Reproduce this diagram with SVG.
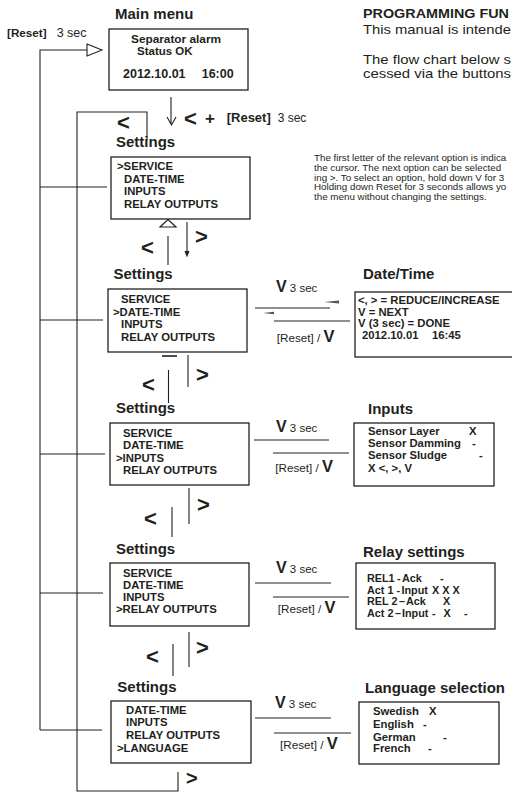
<svg xmlns="http://www.w3.org/2000/svg" width="512" height="792" viewBox="0 0 512 792">
<style>
text{font-family:"Liberation Sans",Arial,Helvetica,sans-serif;fill:#231f20}
.title{font-size:15px;font-weight:bold}
.bt{font-size:11.3px;font-weight:bold}
.rt{font-size:10.8px;font-weight:bold}
.nav{font-size:22px;font-weight:bold}
.body{font-size:12.8px}
.small{font-size:9.8px}
.ln{stroke:#231f20;stroke-width:1.1;fill:none}
.box{stroke:#231f20;stroke-width:1.3;fill:#fff}
</style>
<rect width="512" height="792" fill="#fff"/>

<g id="intro">
<text x="363" y="18" style="font-size:13px;font-weight:bold" textLength="146" lengthAdjust="spacingAndGlyphs">PROGRAMMING FUN</text>
<text class="body" x="363" y="34" textLength="148" lengthAdjust="spacingAndGlyphs">This manual is intende</text>
<text class="body" x="363" y="64" textLength="148" lengthAdjust="spacingAndGlyphs">The flow chart below s</text>
<text class="body" x="363" y="78" textLength="148" lengthAdjust="spacingAndGlyphs">cessed via the buttons</text>
<text class="small" x="314" y="161">The first letter of the relevant option is indica</text>
<text class="small" x="314" y="170.7">the cursor. The next option can be selected</text>
<text class="small" x="314" y="180.5">ing &gt;. To select an option, hold down V for 3</text>
<text class="small" x="314" y="190.2">Holding down Reset for 3 seconds allows yo</text>
<text class="small" x="314" y="200">the menu without changing the settings.</text>
</g>

<g id="connectors">
<path class="ln" d="M40,730 V50 H88"/>
<polygon points="87,44 102,50 87,56" fill="#fff" stroke="#231f20" stroke-width="1.1"/>
<path class="ln" d="M40,187 H107 M40,320 H103 M40,454 H105 M40,593 H103 M40,730 H102"/>
<path class="ln" d="M147,140 V112 H77 V791 H178 V772"/>
<path class="ln" d="M171,97 V124 M167,117 L171.5,125 L176,117"/>
<polygon points="160,227 168,219.5 176,227" fill="#fff" stroke="#231f20" stroke-width="1.2"/>
<path class="ln" d="M168,236 V265 M187,222 V252"/>
<polygon points="184.5,251 189.5,251 187,257.5" fill="#231f20"/>
<path class="ln" d="M162,356 H177" style="stroke-width:1.6"/>
<path class="ln" d="M168.5,370 V403 M188,355 V387"/>
<path class="ln" d="M189,488 V524 M172,507 V537"/>
<path class="ln" d="M189,632 V667 M173,644 V676"/>
<path class="ln" d="M255,308 H330 M274,321 H350"/>
<polygon points="324,302 339,300.6 339,303.4" fill="#555"/>
<polygon points="263,313 274,311.8 274,314.2" fill="#555"/>
<path class="ln" d="M254,440 H329 M273,453 H349"/>
<path class="ln" d="M255,583 H331 M273,597 H349"/>
<path class="ln" d="M255,718 H331 M274,733 H351"/>
</g>

<g id="nav-labels">
<text x="7" y="37"><tspan style="font-size:11.7px;font-weight:bold">[Reset]</tspan><tspan x="56.7" style="font-size:12.5px">3 sec</tspan></text>
<text class="nav" x="117" y="130">&lt;</text>
<text class="nav" x="184" y="126">&lt;</text>
<text x="205" y="124" style="font-size:17px;font-weight:bold">+</text>
<text x="226.7" y="122" style="font-size:13px;font-weight:bold">[Reset]</text>
<text x="277.7" y="122" style="font-size:12px">3 sec</text>
<text class="nav" x="195" y="244">&gt;</text>
<text class="nav" x="141" y="254.5">&lt;</text>
<text class="nav" x="196" y="382">&gt;</text>
<text class="nav" x="142" y="392">&lt;</text>
<text class="nav" x="197" y="512">&gt;</text>
<text class="nav" x="144" y="526">&lt;</text>
<text class="nav" x="196" y="655">&gt;</text>
<text class="nav" x="146" y="663.5">&lt;</text>
<text class="nav" x="186" y="785" style="font-size:20px">&gt;</text>
</g>

<g id="edge-labels">
<text x="276" y="292.3"><tspan style="font-size:16px;font-weight:bold">V</tspan><tspan style="font-size:11.5px"> 3 sec</tspan></text>
<text x="276.7" y="341.5"><tspan style="font-size:11.7px">[Reset] / </tspan><tspan style="font-size:16.5px;font-weight:bold">V</tspan></text>
<text x="276" y="432.3"><tspan style="font-size:16px;font-weight:bold">V</tspan><tspan style="font-size:11.5px"> 3 sec</tspan></text>
<text x="275.3" y="471.5"><tspan style="font-size:11.7px">[Reset] / </tspan><tspan style="font-size:16.5px;font-weight:bold">V</tspan></text>
<text x="276" y="573"><tspan style="font-size:16px;font-weight:bold">V</tspan><tspan style="font-size:11.5px"> 3 sec</tspan></text>
<text x="277.7" y="612.7"><tspan style="font-size:11.7px">[Reset] / </tspan><tspan style="font-size:16.5px;font-weight:bold">V</tspan></text>
<text x="275" y="707.5"><tspan style="font-size:16px;font-weight:bold">V</tspan><tspan style="font-size:11.5px"> 3 sec</tspan></text>
<text x="280" y="749"><tspan style="font-size:11.7px">[Reset] / </tspan><tspan style="font-size:16.5px;font-weight:bold">V</tspan></text>
</g>

<g id="main-menu">
<text class="title" x="115" y="19">Main menu</text>
<rect class="box" x="109" y="29" width="139" height="61"/>
<text x="131" y="43" style="font-size:11.5px;font-weight:bold" textLength="90" lengthAdjust="spacingAndGlyphs">Separator alarm</text>
<text x="137" y="55" style="font-size:11.5px;font-weight:bold">Status OK</text>
<text x="123" y="78" style="font-size:12.5px;font-weight:bold">2012.10.01<tspan x="201.7">16:00</tspan></text>
</g>

<g id="settings-service">
<text class="title" x="116" y="147">Settings</text>
<rect class="box" x="111" y="157" width="139" height="62"/>
<text class="bt" x="117" y="170">&gt;SERVICE</text>
<text class="bt" x="124" y="183">DATE-TIME</text>
<text class="bt" x="124" y="195.3">INPUTS</text>
<text class="bt" x="124" y="207.5">RELAY OUTPUTS</text>
</g>

<g id="settings-datetime">
<text class="title" x="113.5" y="279.3">Settings</text>
<rect class="box" x="108" y="289" width="139" height="63"/>
<text class="bt" x="121" y="303.3">SERVICE</text>
<text class="bt" x="113" y="315.7">&gt;DATE-TIME</text>
<text class="bt" x="121" y="327.8">INPUTS</text>
<text class="bt" x="121" y="340.5">RELAY OUTPUTS</text>
</g>

<g id="settings-inputs">
<text class="title" x="116" y="413.3">Settings</text>
<rect class="box" x="110" y="423" width="139" height="62"/>
<text class="bt" x="123" y="437">SERVICE</text>
<text class="bt" x="123" y="449">DATE-TIME</text>
<text class="bt" x="116" y="461.7">&gt;INPUTS</text>
<text class="bt" x="123" y="474">RELAY OUTPUTS</text>
</g>

<g id="settings-relay">
<text class="title" x="116" y="554">Settings</text>
<rect class="box" x="110" y="563" width="139" height="63"/>
<text class="bt" x="123" y="577">SERVICE</text>
<text class="bt" x="123" y="589">DATE-TIME</text>
<text class="bt" x="123" y="601">INPUTS</text>
<text class="bt" x="116" y="613.3">&gt;RELAY OUTPUTS</text>
</g>

<g id="settings-language">
<text class="title" x="117.3" y="691.5">Settings</text>
<rect class="box" x="111" y="701" width="140" height="62"/>
<text class="bt" x="126" y="714">DATE-TIME</text>
<text class="bt" x="126" y="726.3">INPUTS</text>
<text class="bt" x="126" y="739">RELAY OUTPUTS</text>
<text class="bt" x="117" y="752">&gt;LANGUAGE</text>
</g>

<g id="date-time">
<text class="title" x="363" y="279">Date/Time</text>
<rect class="box" x="355" y="292" width="160" height="65"/>
<text class="bt" x="358" y="304.3">&lt;, &gt; = REDUCE/INCREASE</text>
<text class="bt" x="358" y="315.5">V = NEXT</text>
<text class="bt" x="358" y="327.3">V (3 sec) = DONE</text>
<text class="bt" x="362" y="339.3">2012.10.01<tspan x="432">16:45</tspan></text>
</g>

<g id="inputs">
<text class="title" x="368" y="414">Inputs</text>
<rect class="box" x="354" y="423" width="140" height="63"/>
<text class="bt" x="368" y="435">Sensor Layer<tspan x="469">X</tspan></text>
<text class="bt" x="368" y="447.3">Sensor Damming<tspan x="472">-</tspan></text>
<text class="bt" x="368" y="459.3">Sensor Sludge<tspan x="479">-</tspan></text>
<text class="bt" x="368" y="472">X<tspan x="378.7">&lt;, &gt;, V</tspan></text>
</g>

<g id="relay-settings">
<text class="title" x="363" y="557">Relay settings</text>
<rect class="box" x="356" y="563" width="139" height="66"/>
<text class="rt" x="367" y="582">REL1<tspan x="397">-</tspan><tspan x="402">Ack</tspan><tspan x="440">-</tspan></text>
<text class="rt" x="367" y="593.5">Act 1<tspan x="396.5">-</tspan><tspan x="401.5">Input</tspan><tspan x="432">X X X</tspan></text>
<text class="rt" x="367" y="605.3">REL 2<tspan x="399">–</tspan><tspan x="406">Ack</tspan><tspan x="443">X</tspan></text>
<text class="rt" x="367" y="617.3">Act 2<tspan x="395">–</tspan><tspan x="402">Input</tspan><tspan x="432">-</tspan><tspan x="443.5">X</tspan><tspan x="464">-</tspan></text>
</g>

<g id="language-selection">
<text class="title" x="365" y="693">Language selection</text>
<rect class="box" x="359" y="702" width="140" height="62"/>
<text class="bt" x="373" y="715">Swedish<tspan x="429">X</tspan></text>
<text class="bt" x="373" y="728">English<tspan x="423">-</tspan></text>
<text class="bt" x="373" y="740.5">German<tspan x="443">-</tspan></text>
<text class="bt" x="373" y="752">French<tspan x="428">-</tspan></text>
</g>
</svg>
